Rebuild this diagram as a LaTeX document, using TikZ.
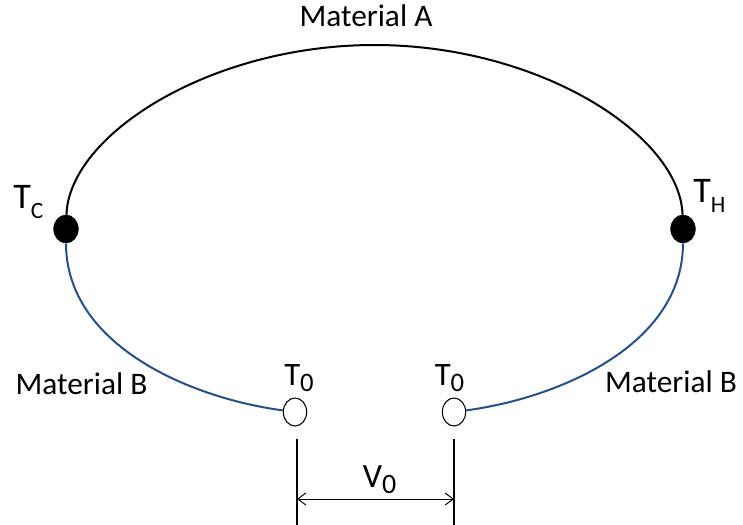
\documentclass[tikz,border=0pt]{standalone}
\usepackage{fontspec}
\setmainfont{Carlito}
\usetikzlibrary{arrows.meta,shapes.geometric}
\definecolor{wireblue}{RGB}{38,78,135}
\newcommand\lowsub[3]{\raisebox{-#1}{\fontsize{#2}{#2}\selectfont #3}}
\begin{document}
\begin{tikzpicture}[x=0.75pt,y=-0.75pt,
  blackdot/.style={ellipse,fill=black,draw=black,minimum width=18.5pt,minimum height=21pt,inner sep=0pt},
  opendot/.style={ellipse,fill=white,draw=black,line width=0.8pt,minimum width=17.5pt,minimum height=21pt,inner sep=0pt},
  wireA/.style={draw=black,line width=1.5pt},
  wireB/.style={draw=wireblue,line width=1.5pt},
  lead/.style={draw=black,line width=1.5pt},
  dim/.style={draw=black,line width=0.75pt,{Straight Barb[length=6pt,width=9pt]}-{Straight Barb[length=6pt,width=9pt]}},
  mat/.style={font=\fontsize{23.5}{28}\selectfont,inner sep=0pt,anchor=base},
  tlab/.style={font=\fontsize{27}{30}\selectfont,inner sep=0pt,anchor=base west},
  zlab/.style={font=\fontsize{24.5}{28}\selectfont,inner sep=0pt,anchor=base}]
\useasboundingbox (0,0) rectangle (743,525);

% junctions
\node[blackdot] (tc) at (66,229) {};
\node[blackdot] (th) at (683,229) {};
\node[opendot] (ol) at (295,412) {};
\node[opendot] (or) at (454,412) {};

% material A (upper arc)
\coordinate (atop) at (374.5,45);
\draw[wireA] (tc) .. controls (69,135) and (210,45) .. (atop)
                  .. controls (539,45) and (680,135) .. (th);

% material B (lower wires)
\draw[wireB] (tc) .. controls (66,345) and (190,398) .. (ol);
\draw[wireB] (th) .. controls (683,345) and (559,398) .. (or);

% leads and voltage dimension
\coordinate (l1a) at (297,439);
\coordinate (l1b) at (297,525);
\coordinate (l2a) at (454,439);
\coordinate (l2b) at (454,525);
\draw[lead] (l1a) -- (l1b);
\draw[lead] (l2a) -- (l2b);
\coordinate (al) at (297,499);
\coordinate (ar) at (454,499);
\draw[dim] (al) -- (ar);

% labels
\node[mat] (ma) at (366,26) {Material A};
\node[mat] (mbl) at (81.5,394) {Material B};
\node[mat] (mbr) at (671,392) {Material B};
\node[tlab] (tcl) at (13,208) {T\lowsub{7.5pt}{17.5}{C}};
\node[tlab] (thl) at (693,202) {T\lowsub{7.5pt}{17.5}{H}};
\node[zlab] (t0l) at (299,385) {T\lowsub{5pt}{20}{0}};
\node[zlab] (t0r) at (449.5,385) {T\lowsub{5pt}{20}{0}};
\node[font=\fontsize{25.5}{28}\selectfont,inner sep=0pt,anchor=base] (v0) at (379.5,487) {V\lowsub{4.5pt}{21}{0}};
\end{tikzpicture}
\end{document}
